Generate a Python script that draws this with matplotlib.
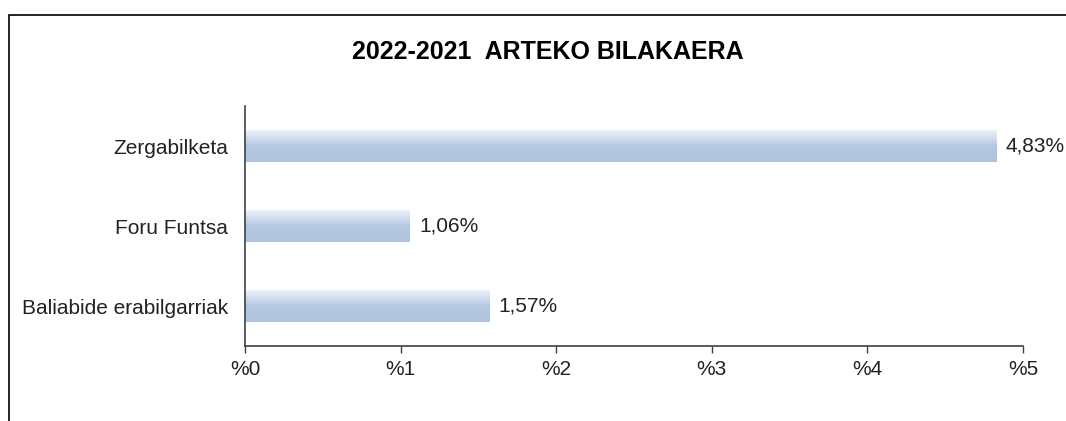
import numpy as np
import matplotlib
matplotlib.use('Agg')
import matplotlib.pyplot as plt
from matplotlib.colors import LinearSegmentedColormap
from matplotlib.patches import Rectangle

plt.rcParams['font.family'] = ['Liberation Sans', 'DejaVu Sans']

# Data
categories = ['Zergabilketa', 'Foru Funtsa', 'Baliabide erabilgarriak']
values = [4.83, 1.06, 1.57]
value_labels = ['4,83%', '1,06%', '1,57%']
xticks = [0, 1, 2, 3, 4, 5]
xtick_labels = ['%0', '%1', '%2', '%3', '%4', '%5']
title = '2022-2021  ARTEKO BILAKAERA'

fig = plt.figure(figsize=(10.66, 4.21), dpi=100)
ax = fig.add_axes([245 / 1066, 1 - 346 / 421, 778 / 1066, 240 / 421])

# outer frame (only left/top visible in the reference)
fig.patches.append(Rectangle((8.5 / 1066, -0.2), 1.2, 1.2 - 14.5 / 421,
                             transform=fig.transFigure, fill=False,
                             edgecolor='black', linewidth=1.2))

y = np.arange(len(categories))
bars = ax.barh(y, values, height=0.4, color='none', edgecolor='none')

# vertical gradient inside each bar, light on top
grad_cmap = LinearSegmentedColormap.from_list('bar', ['#edf2f9', '#b6c8e2', '#aec3df'])
gradient = np.linspace(0, 1, 256).reshape(-1, 1)
for bar in bars:
    x0, y0 = bar.get_x(), bar.get_y()
    w, h = bar.get_width(), bar.get_height()
    # y axis inverted: y0 is the top edge on screen
    ax.imshow(gradient, cmap=grad_cmap, aspect='auto', origin='upper',
              extent=(x0, x0 + w, y0 + h, y0), zorder=2, interpolation='bilinear')

for bar, lab in zip(bars, value_labels):
    ax.text(bar.get_width() + 0.06, bar.get_y() + bar.get_height() / 2, lab,
            va='center', ha='left', fontsize=15, color='#222222')

ax.set_ylim(2.5, -0.5)
ax.set_xlim(0, 5)
ax.set_yticks(y)
ax.set_yticklabels(categories, fontsize=15, color='#222222')
ax.set_xticks(xticks)
ax.set_xticklabels(xtick_labels, fontsize=15, color='#222222')
ax.tick_params(axis='y', length=0, pad=12)
ax.tick_params(axis='x', length=5, width=1, color='#404040', pad=5, direction='out')

for side in ['top', 'right']:
    ax.spines[side].set_visible(False)
for side in ['left', 'bottom']:
    ax.spines[side].set_color('#404040')
    ax.spines[side].set_linewidth(1.2)

fig.text(548 / 1066, 1 - 52 / 421, title, ha='center', va='center',
         fontsize=18, fontweight='bold', color='black')

fig.savefig('out.png', dpi=100)
